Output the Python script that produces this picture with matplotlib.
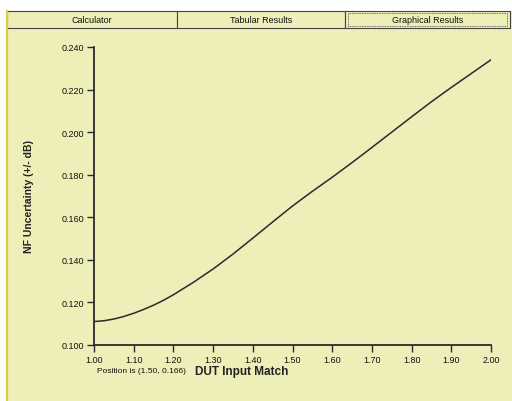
import matplotlib
matplotlib.use('Agg')
import matplotlib.pyplot as plt
from matplotlib.patches import Rectangle
from matplotlib.lines import Line2D

# Data
match = [1.000, 1.025, 1.050, 1.075, 1.100, 1.125, 1.150, 1.175, 1.200,
         1.250, 1.300, 1.350, 1.400, 1.450, 1.500, 1.550, 1.600, 1.650,
         1.700, 1.750, 1.800, 1.850, 1.900, 1.950, 2.000]
uncert = [0.1110, 0.1114, 0.1122, 0.1134, 0.1149, 0.1167, 0.1187, 0.1210,
          0.1236, 0.1294, 0.1357, 0.1427, 0.1502, 0.1578, 0.1653, 0.1722,
          0.1788, 0.1857, 0.1928, 0.2000, 0.2072, 0.2143, 0.2210, 0.2275,
          0.2340]
xticks = [1.0, 1.1, 1.2, 1.3, 1.4, 1.5, 1.6, 1.7, 1.8, 1.9, 2.0]
yticks = [0.100, 0.120, 0.140, 0.160, 0.180, 0.200, 0.220, 0.240]
tabs = ['Calculator', 'Tabular Results', 'Graphical Results']

W, H = 512, 402
BG = '#EEEEB9'
plt.rcParams['font.family'] = ['Liberation Sans', 'DejaVu Sans']

fig = plt.figure(figsize=(W / 100, H / 100), dpi=100)
fig.patch.set_facecolor('white')


def fx(x):
    return x / W


def fy(y):
    return 1 - y / H


# yellow panel and left border
fig.add_artist(Rectangle((fx(6), 0), fx(W) - fx(6), fy(12), transform=fig.transFigure,
                         facecolor=BG, edgecolor='none', zorder=0))
fig.add_artist(Line2D([fx(6.5), fx(6.5)], [0, fy(12)], transform=fig.transFigure,
                      color='#D2D24A', lw=1.6))

# tabs
edges = [7, 177, 345, 510]
for i, name in enumerate(tabs):
    x0, x1 = edges[i], edges[i + 1]
    fig.add_artist(Rectangle((fx(x0), fy(29)), fx(x1) - fx(x0), fy(12) - fy(29),
                             transform=fig.transFigure, facecolor=BG,
                             edgecolor='#444444', lw=0.8, zorder=1))
    fig.text(fx((x0 + x1) / 2), fy(20.5), name, ha='center', va='center',
             fontsize=6.5, color='#111111')
fig.add_artist(Rectangle((fx(348), fy(27)), fx(507) - fx(348), fy(14) - fy(27),
                         transform=fig.transFigure, facecolor='none',
                         edgecolor='#444444', lw=0.6, ls=(0, (1, 1)), zorder=2))

# plot area
ax = fig.add_axes([fx(94), fy(346), fx(491) - fx(94), fy(48) - fy(346)])
ax.set_facecolor(BG)
ax.patch.set_alpha(0)
ax.plot(match, uncert, color='#2a2a2a', lw=1.1)
ax.set_xlim(1.0, 2.0)
ax.set_ylim(0.100, 0.240)
ax.set_xticks(xticks)
ax.set_xticklabels(['%.2f' % v for v in xticks])
ax.set_yticks(yticks)
ax.set_yticklabels(['%.3f' % v for v in yticks])
for s in ['top', 'right']:
    ax.spines[s].set_visible(False)
for s in ['left', 'bottom']:
    ax.spines[s].set_color('#2a2a2a')
    ax.spines[s].set_linewidth(1.3)
ax.tick_params(axis='both', direction='out', length=5, width=1, color='#2a2a2a',
               labelsize=6.5, labelcolor='#111111', pad=2)
ax.set_ylabel('NF Uncertainty (+/- dB)', fontsize=7.5, fontweight='bold',
              color='#222222', labelpad=20)
fig.text(fx(242), fy(372), 'DUT Input Match', ha='center', va='center',
         fontsize=8.5, fontweight='bold', color='#222222')
fig.text(fx(97), fy(372), 'Position is (1.50, 0.166)', ha='left', va='center',
         fontsize=6, color='#111111')

plt.savefig('out.png', dpi=100, facecolor=fig.get_facecolor())
